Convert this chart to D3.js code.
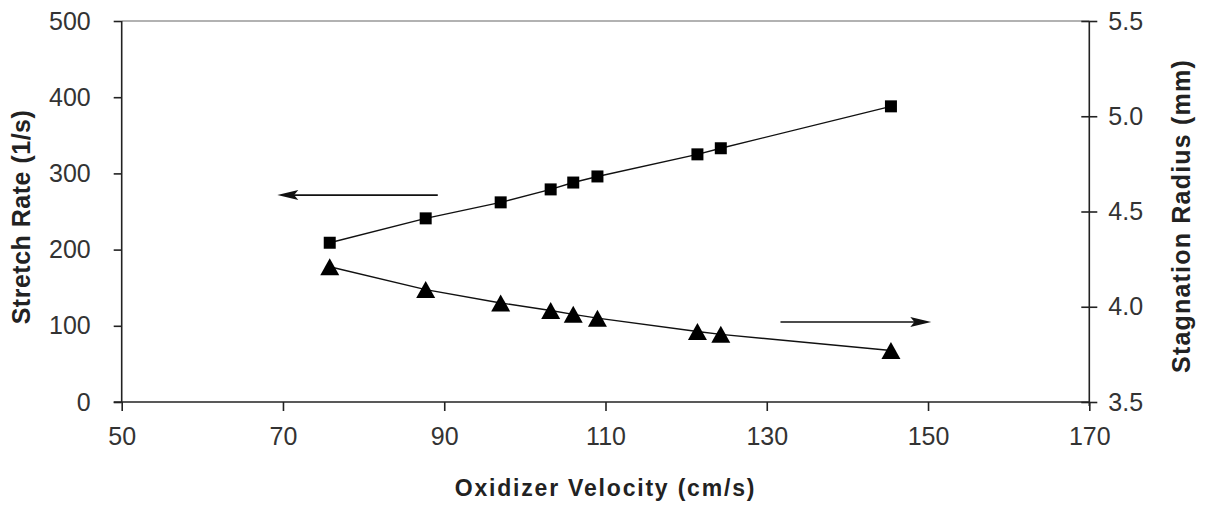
<!DOCTYPE html>
<html>
<head>
<meta charset="utf-8">
<script src="https://cdn.jsdelivr.net/npm/d3@7"></script>
<style>
  html, body { margin: 0; padding: 0; background: #fff; }
  svg { display: block; }
  text { font-family: "Liberation Sans", Arial, sans-serif; }
</style>
</head>
<body>
<svg id="chart" width="1207" height="506"></svg>
<script>
// ---- Data ----
const velocity = [75.8, 87.7, 97.0, 103.2, 106.0, 109.0, 121.4, 124.3, 145.4];
const stretchRate = [209, 241, 262, 279, 288, 296, 325, 333, 388];
const stagnationRadius = [4.21, 4.09, 4.02, 3.98, 3.96, 3.94, 3.87, 3.855, 3.77];
const xTicks = [50, 70, 90, 110, 130, 150, 170];
const yLeftTicks = [0, 100, 200, 300, 400, 500];
const yRightTicks = [3.5, 4.0, 4.5, 5.0, 5.5];
// annotation arrows in data coords (x in cm/s, y in 1/s on left axis)
const arrowLeft = { from: [89.2, 271.5], to: [69.3, 271.5] };
const arrowRight = { from: [131.7, 105], to: [150.4, 105] };

const xTitle = "Oxidizer Velocity (cm/s)";
const yLeftTitle = "Stretch Rate (1/s)";
const yRightTitle = "Stagnation Radius (mm)";

// ---- Layout ----
const svg = d3.select("#chart");
const mLeft = 121.7, mRight = 1089.3, mTop = 21, mBottom = 402;

const x = d3.scaleLinear().domain([50, 170]).range([mLeft, mRight]);
const yL = d3.scaleLinear().domain([0, 500]).range([mBottom, mTop]);
const yR = d3.scaleLinear().domain([3.5, 5.5]).range([mBottom, mTop]);

const ink = "#222";
const tickFont = 25;

// top border
svg.append("line")
  .attr("x1", mLeft).attr("x2", mRight).attr("y1", mTop).attr("y2", mTop)
  .attr("stroke", "#999").attr("stroke-width", 1.3);

// bottom axis
const gx = svg.append("g").attr("transform", `translate(0,${mBottom})`)
  .call(d3.axisBottom(x).tickValues(xTicks).tickFormat(d3.format("d")).tickSize(9).tickPadding(16));
// left axis
const gl = svg.append("g").attr("transform", `translate(${mLeft},0)`)
  .call(d3.axisLeft(yL).tickValues(yLeftTicks).tickFormat(d3.format("d")).tickSize(8).tickPadding(23));
// right axis
const gr = svg.append("g").attr("transform", `translate(${mRight},0)`)
  .call(d3.axisRight(yR).tickValues(yRightTicks).tickFormat(d3.format(".1f")).tickSize(8).tickPadding(11));
gr.selectAll(".tick line").attr("x1", -8);

[gx, gl, gr].forEach(g => {
  g.selectAll(".domain").attr("stroke", ink).attr("stroke-width", 1.6);
  g.selectAll(".tick line").attr("stroke", ink).attr("stroke-width", 1.6);
  g.selectAll(".tick text").attr("fill", "#333").attr("font-size", tickFont)
    .attr("font-family", "'Liberation Sans', Arial, sans-serif");
});
gl.select(".domain").attr("d", `M-8,${mBottom}H0V${mTop}`);
gr.select(".domain").attr("d", `M0,${mBottom + 4}V${mTop}`);
gx.select(".domain").attr("d", `M${mLeft},0H${mRight}`);

// ---- Series lines ----
const ptsSq = velocity.map((v, i) => [x(v), yL(stretchRate[i])]);
const ptsTr = velocity.map((v, i) => [x(v), yR(stagnationRadius[i])]);
const line = d3.line();

svg.append("path").attr("d", line(ptsSq)).attr("fill", "none")
  .attr("stroke", "#111").attr("stroke-width", 1.4);
svg.append("path").attr("d", line(ptsTr)).attr("fill", "none")
  .attr("stroke", "#111").attr("stroke-width", 1.4);

// markers
svg.append("g").selectAll("path").data(ptsSq).join("path")
  .attr("transform", d => `translate(${d[0]},${d[1]})`)
  .attr("d", d3.symbol(d3.symbolSquare, 144))
  .attr("fill", "#000");

// triangle centered on its bounding box
const triBox = {
  draw(ctx, size) {
    const w = 19, h = 17;
    ctx.moveTo(0, -h / 2);
    ctx.lineTo(w / 2, h / 2);
    ctx.lineTo(-w / 2, h / 2);
    ctx.closePath();
  }
};
svg.append("g").selectAll("path").data(ptsTr).join("path")
  .attr("transform", d => `translate(${d[0]},${d[1]})`)
  .attr("d", d3.symbol(triBox, 1))
  .attr("fill", "#000");

// ---- Arrows ----
function arrow(a) {
  const x1 = x(a.from[0]), y1 = yL(a.from[1]);
  const x2 = x(a.to[0]), y2 = yL(a.to[1]);
  const dir = Math.sign(x2 - x1);
  const headLen = 21, headHalf = 5;
  svg.append("line").attr("x1", x1).attr("y1", y1).attr("x2", x2 - dir * headLen * 0.6).attr("y2", y2)
    .attr("stroke", "#111").attr("stroke-width", 1.6);
  svg.append("path")
    .attr("d", `M${x2},${y2}L${x2 - dir * headLen},${y2 - headHalf}L${x2 - dir * headLen * 0.8},${y2}L${x2 - dir * headLen},${y2 + headHalf}Z`)
    .attr("fill", "#111");
}
arrow(arrowLeft);
arrow(arrowRight);

// ---- Titles ----
const titleStyle = (sel, size, ls) => sel.attr("font-weight", "bold").attr("font-size", size)
  .attr("letter-spacing", ls + "px").attr("fill", "#222").attr("text-anchor", "middle");

svg.append("text").text(xTitle).call(titleStyle, 23, 1.8)
  .attr("x", (mLeft + mRight) / 2).attr("y", 496);

svg.append("text").text(yLeftTitle).call(titleStyle, 25, 0.5)
  .attr("transform", `translate(30,${217}) rotate(-90)`);

svg.append("text").text(yRightTitle).call(titleStyle, 25, 1.2)
  .attr("transform", `translate(1190,${216}) rotate(-90)`);
</script>
</body>
</html>
